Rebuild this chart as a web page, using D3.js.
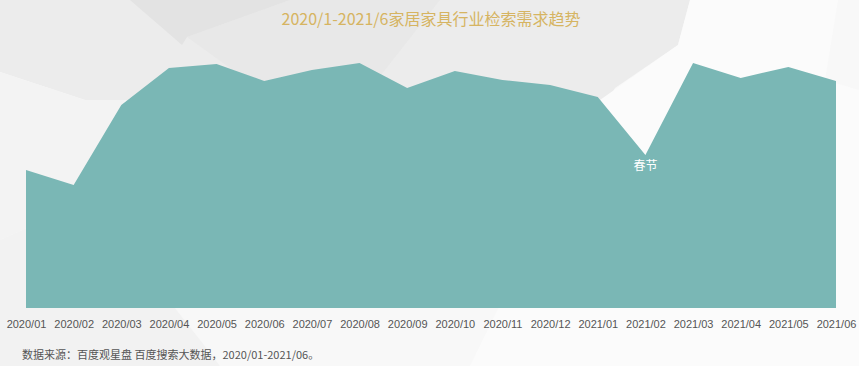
<!DOCTYPE html>
<html>
<head>
<meta charset="utf-8">
<script src="https://cdn.jsdelivr.net/npm/d3@7"></script>
<style>
  html, body { margin: 0; padding: 0; background: #f7f7f7; }
  svg { display: block; }
</style>
</head>
<body>
<svg id="chart" width="859" height="366"></svg>
<script>
const months = ['2020/01', '2020/02', '2020/03', '2020/04', '2020/05', '2020/06', '2020/07', '2020/08', '2020/09',
  '2020/10', '2020/11', '2020/12', '2021/01', '2021/02', '2021/03', '2021/04', '2021/05', '2021/06'];
const searchIndex = [138, 123, 203, 240, 244, 227, 238, 245, 220, 237, 228, 223, 211, 153, 245, 230, 241, 227];
const notes = [{ month: '2021/02', text: '春节' }];
const title = '2020/1-2021/6家居家具行业检索需求趋势';
const source = '数据来源：百度观星盘  百度搜索大数据，2020/01-2021/06。';

const svg = d3.select('#chart');

// low-poly background
const bg = svg.append('g');
const shapes = [
  { fill: '#f8f8f8', pts: [[0, 0], [859, 0], [859, 366], [0, 366]] },
  { fill: '#ececec', pts: [[0, 0], [690, 0], [678, 45], [615, 88], [585, 140], [300, 140], [125, 100], [85, 100], [0, 72]] },
  { fill: '#e8e8e8', pts: [[290, 0], [440, 0], [330, 140], [187, 37]] },
  { fill: '#e3e3e3', pts: [[130, 0], [290, 0], [187, 37], [182, 45]] },
  { fill: '#f3f3f3', pts: [[0, 72], [85, 100], [125, 100], [90, 200], [0, 240]] },
  { fill: '#fbfbfb', pts: [[690, 0], [838, 0], [825, 80], [859, 90], [859, 366], [470, 366], [600, 100], [678, 45]] },
  { fill: '#f2f2f2', pts: [[0, 240], [90, 200], [200, 340], [220, 366], [0, 366]] }
];
bg.selectAll('polygon')
  .data(shapes)
  .join('polygon')
  .attr('points', (d) => d.pts.map((p) => p.join(',')).join(' '))
  .attr('fill', (d) => d.fill);

const x = d3.scalePoint().domain(months).range([26, 836]);
const y = d3.scaleLinear().domain([0, 250]).range([308, 58]);

const area = d3.area()
  .x((d, i) => x(months[i]))
  .y0(y(0))
  .y1((d) => y(d));

svg.append('path')
  .datum(searchIndex)
  .attr('d', area)
  .attr('fill', '#7ab7b5');

svg.append('g')
  .attr('transform', `translate(0, ${y(0)})`)
  .call(d3.axisBottom(x).tickSize(0).tickPadding(12))
  .call((g) => g.select('.domain').remove())
  .call((g) => g.selectAll('text')
    .attr('fill', '#555')
    .attr('font-size', 11)
    .attr('font-family', '"Liberation Sans", Arial, sans-serif'));

svg.append('g')
  .selectAll('text')
  .data(notes)
  .join('text')
  .attr('x', (d) => x(d.month))
  .attr('y', (d) => y(searchIndex[months.indexOf(d.month)]) + 15)
  .attr('text-anchor', 'middle')
  .attr('fill', '#ffffff')
  .attr('font-size', 12)
  .attr('font-family', '"Noto Sans CJK SC", sans-serif')
  .text((d) => d.text);

svg.append('text')
  .attr('x', 431)
  .attr('y', 25)
  .attr('text-anchor', 'middle')
  .attr('fill', '#d6b461')
  .attr('font-size', 16)
  .attr('font-family', '"Noto Sans CJK SC", sans-serif')
  .text(title);

svg.append('text')
  .attr('x', 22)
  .attr('y', 359)
  .attr('fill', '#555')
  .attr('font-size', 11)
  .attr('font-family', '"Noto Sans CJK SC", sans-serif')
  .text(source);
</script>
</body>
</html>
